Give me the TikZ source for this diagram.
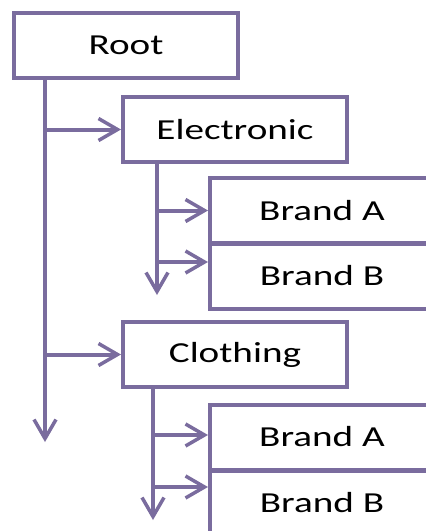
\documentclass[tikz,border=0pt]{standalone}
\usepackage{fontspec}
\setmainfont{Carlito}[FakeStretch=1.35]
\usetikzlibrary{arrows.meta}
\definecolor{treeline}{RGB}{122,108,158}

\begin{document}
\begin{tikzpicture}[x=1pt,y=-1pt]
\useasboundingbox (0,0) rectangle (426,531);
\clip (0,0) rectangle (426,531);
\begin{scope}[every node/.style={rectangle,draw=treeline,line width=4pt,fill=white,
              minimum width=224pt,minimum height=65pt,inner sep=0pt,
              font=\fontsize{29}{32}\selectfont}]
    \node (R) at (126,45.5) {Root};
    \node (E) at (235,129.5) {Electronic};
    \node (EA) at (322,210.5) {Brand A};
    \node (EB) at (322,276) {Brand B};
    \node (C) at (235,354.5) {Clothing};
    \node (CA) at (322,437) {Brand A};
    \node (CB) at (322,503) {Brand B};
\end{scope}

\coordinate (Rend) at (45,442);
\coordinate (Eend) at (157,295);
\coordinate (Cend) at (153,520);

\begin{scope}[>={Straight Barb[length=19pt,width=22pt,line width=3.5pt]},
              every edge/.style={draw=treeline,line width=4pt}]
    \path [->] (R.south -| Rend) edge (Rend);
    \path [->] (E.west -| Rend) edge (E.west);
    \path [->] (C.west -| Rend) edge (C.west);
    \path [->] (E.south -| Eend) edge (Eend);
    \path [->] (EA.west -| Eend) edge (EA.west);
    \path [->] ([yshift=14pt]EB.west -| Eend) edge ([yshift=14pt]EB.west);
    \path [->] (C.south -| Cend) edge (Cend);
    \path [->] ([yshift=2pt]CA.west -| Cend) edge ([yshift=2pt]CA.west);
    \path [->] ([yshift=16pt]CB.west -| Cend) edge ([yshift=16pt]CB.west);
\end{scope}
\end{tikzpicture}
\end{document}
